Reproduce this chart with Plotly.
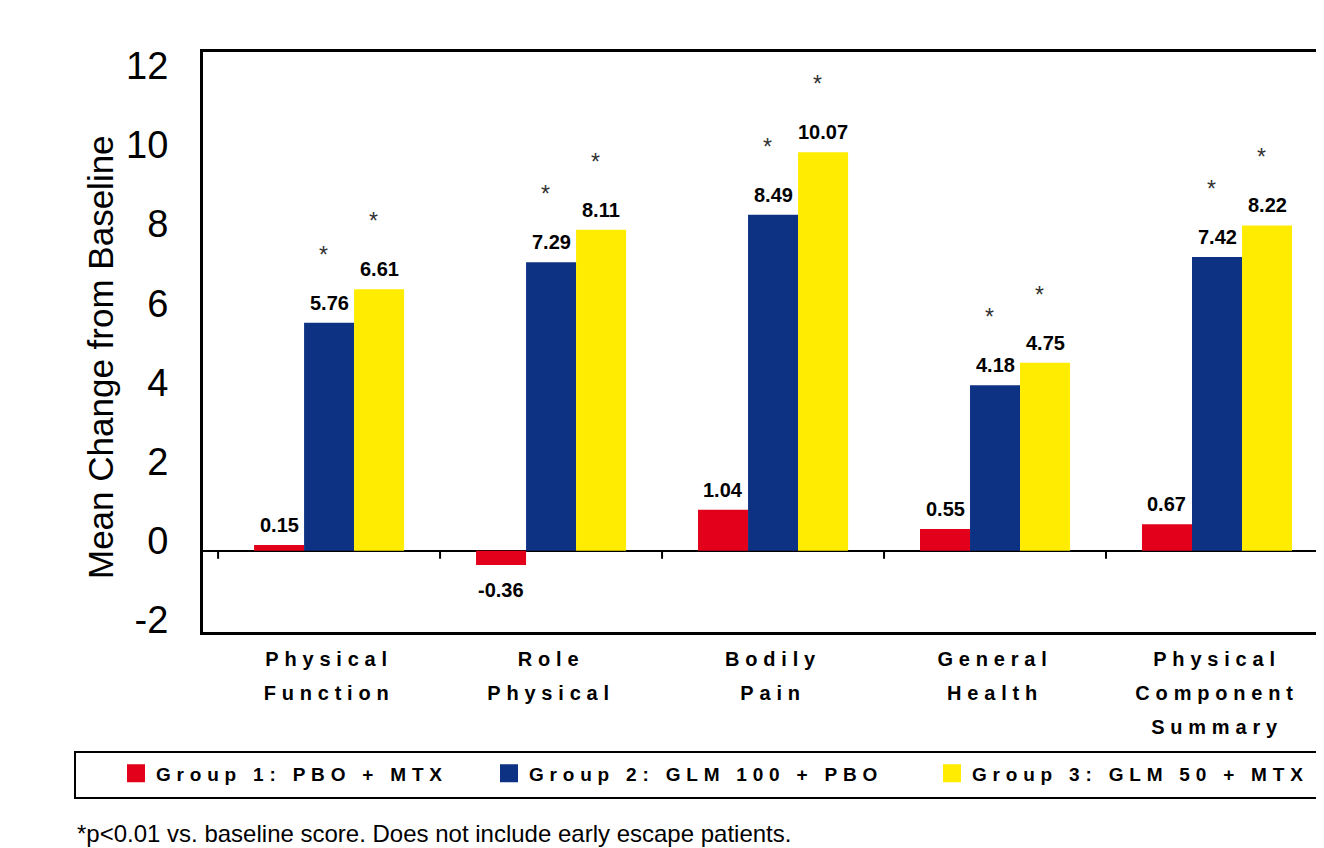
import plotly.graph_objects as go

# ---------------- data ----------------
categories = ["Physical Function", "Role Physical", "Bodily Pain",
              "General Health", "Physical Component Summary"]
tick_labels = ["Physical<br>Function", "Role<br>Physical", "Bodily<br>Pain",
               "General<br>Health", "Physical<br>Component<br>Summary"]
group_names = ["Group 1: PBO + MTX", "Group 2: GLM 100 + PBO", "Group 3: GLM 50 + MTX"]
group1 = [0.15, -0.36, 1.04, 0.55, 0.67]
group2 = [5.76, 7.29, 8.49, 4.18, 7.42]
group3 = [6.61, 8.11, 10.07, 4.75, 8.22]
significant = [[False] * 5, [True] * 5, [True] * 5]
y_ticks = [-2, 0, 2, 4, 6, 8, 10, 12]
y_title = "Mean Change from Baseline"
footnote = "*p<0.01 vs. baseline score. Does not include early escape patients."

# ---------------- style ----------------
colors = ["#E2001A", "#0E3283", "#FFEC00"]
OFF = 8                      # page body margin
W, H = 1324 - OFF, 848 - OFF
ML, MT = 203 - OFF, 52 - OFF
MR = 0
MB = H - (632 - OFF)
PW, PH = W - ML - MR, H - MT - MB
BARGAP = 0.324
FONT = "Liberation Sans, Arial, sans-serif"
LS = "letter-spacing:5.8px"


def px_x(px):
    return (px - OFF - ML) / PW


def px_y(py):
    return (H - MB - (py - OFF)) / PH


series = [group1, group2, group3]
n_groups = len(series)
bar_w = (1 - BARGAP) / n_groups

fig = go.Figure()
for gi, (name, vals, col) in enumerate(zip(group_names, series, colors)):
    fig.add_trace(go.Bar(x=categories, y=vals, name=name, marker=dict(color=col, line=dict(width=0)),
                         showlegend=False))

# legend entries (one legend per group, placed like the original)
legend_px = [116, 489, 932]
for gi, (name, col) in enumerate(zip(group_names, colors)):
    lid = "legend" if gi == 0 else f"legend{gi + 1}"
    fig.add_trace(go.Scatter(x=[None], y=[None], mode="markers",
                             name=f'<span style="{LS}">{name}</span>',
                             marker=dict(symbol="square", size=16, color=col, line=dict(width=2, color=col)),
                             legend=lid, showlegend=True))

# value labels and significance asterisks
annotations = []
for gi, vals in enumerate(series):
    off = (gi - (n_groups - 1) / 2) * bar_w
    for ci, v in enumerate(vals):
        xpos = ci + off
        annotations.append(dict(x=xpos, y=v, xref="x", yref="y", text=f"<b>{v:.2f}</b>",
                                showarrow=False, font=dict(size=20, color="black", family=FONT),
                                yanchor="bottom" if v >= 0 else "top",
                                yshift=7 if v >= 0 else -12))
        if significant[gi][ci]:
            annotations.append(dict(x=xpos, y=v, xref="x", yref="y", text="*", showarrow=False,
                                    font=dict(size=23, color="#333333", family=FONT),
                                    yanchor="middle", xshift=-6, yshift=68))

# y-axis title
annotations.append(dict(x=px_x(100), y=px_y(357), xref="paper", yref="paper", xanchor="center",
                        yanchor="middle", text=y_title, textangle=-90, showarrow=False,
                        font=dict(size=35, color="black", family=FONT)))
# footnote
annotations.append(dict(x=px_x(75), y=px_y(833), xref="paper", yref="paper", xanchor="left",
                        yanchor="middle", text=footnote, showarrow=False,
                        font=dict(size=24, color="black", family=FONT)))

# small tick marks on the zero line at category boundaries
shapes = []
for ci in range(len(categories)):
    shapes.append(dict(type="line", xref="x", yref="y", x0=ci - 0.5, x1=ci - 0.5, y0=0, y1=-0.2,
                       line=dict(color="black", width=2)))
# legend frame
shapes.append(dict(type="rect", xref="paper", yref="paper", x0=px_x(75), x1=px_x(1340),
                   y0=px_y(798), y1=px_y(752), line=dict(color="black", width=2)))

ticktext = ["<br>".join(f'<span style="font-size:20px;{LS}">{ln}</span>' for ln in t.split("<br>"))
            for t in tick_labels]

legend_common = dict(orientation="h", yanchor="middle", y=px_y(773.5), xanchor="left",
                     font=dict(size=19, family=FONT, color="black", weight="bold"),
                     bgcolor="rgba(0,0,0,0)", borderwidth=0, itemclick=False)
layout_legends = {}
for gi in range(n_groups):
    lid = "legend" if gi == 0 else f"legend{gi + 1}"
    layout_legends[lid] = dict(legend_common, x=px_x(legend_px[gi]))

fig.update_layout(
    width=W, height=H,
    margin=dict(l=ML, r=MR, t=MT, b=MB, pad=0, autoexpand=False),
    paper_bgcolor="white", plot_bgcolor="white",
    barmode="group", bargap=BARGAP, bargroupgap=0,
    font=dict(family=FONT, color="black"),
    xaxis=dict(range=[-0.568, 4.482], tickmode="array", tickvals=categories, ticktext=ticktext,
               tickfont=dict(size=26, family=FONT, color="black", weight="bold"),
               ticks="", showgrid=False, zeroline=False, showline=True, linecolor="black",
               linewidth=3, mirror=True, ticklabelstandoff=0, automargin=False, fixedrange=True),
    yaxis=dict(range=[-2.05, 12.6], tickmode="array", tickvals=y_ticks,
               ticktext=[str(v) for v in y_ticks],
               tickfont=dict(size=38, family=FONT, color="black"), ticks="",
               showgrid=False, zeroline=True, zerolinecolor="black", zerolinewidth=2,
               showline=True, linecolor="black", linewidth=3, mirror=False,
               ticklabelstandoff=24, ticklabelshift=-10, automargin=False),
    annotations=annotations,
    shapes=shapes,
    **layout_legends,
)

fig.write_html("out.html")
